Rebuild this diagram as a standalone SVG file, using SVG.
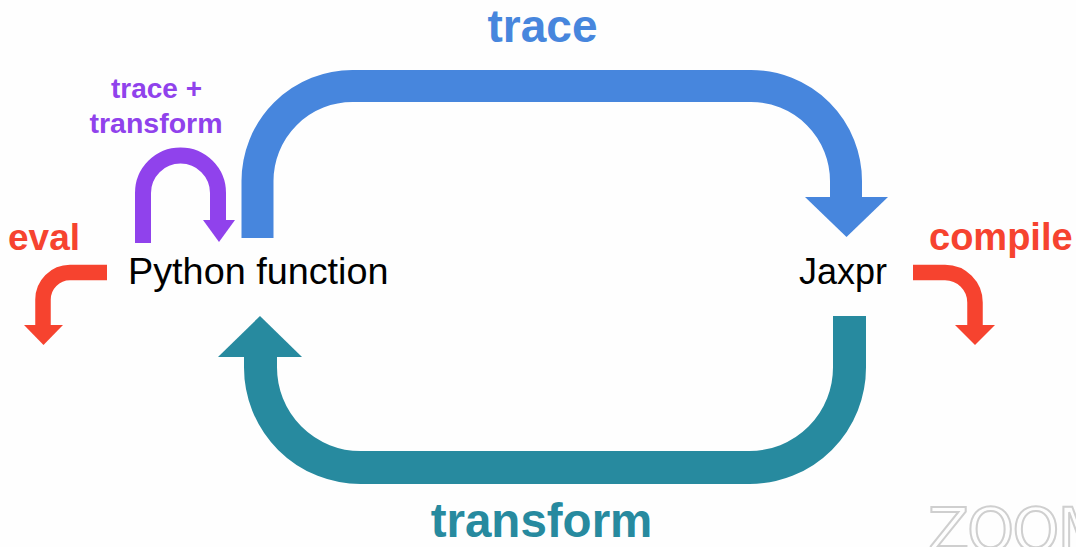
<svg xmlns="http://www.w3.org/2000/svg" width="1076" height="547" viewBox="0 0 1076 547">
<style>
.lbl{font-family:"Liberation Sans",Arial,sans-serif;font-weight:bold}
.node{font-family:"Liberation Sans",Arial,sans-serif;fill:#000}
.shaft{fill:none;stroke-linecap:butt;stroke-linejoin:round}
</style>
<rect width="1076" height="547" fill="#fefefe"/>
<g id="connectors">
  <g id="trace-arrow">
    <path class="shaft" d="M257.5,238 V181 A95,95 0 0 1 352.5,86 H751 A95,95 0 0 1 846,181 V199" stroke="#4786dd" stroke-width="32"/>
    <polygon points="805,197 888,197 846.5,237" fill="#4786dd"/>
  </g>
  <g id="transform-arrow">
    <path class="shaft" d="M849.5,316 V367.5 A100,100 0 0 1 749.5,467.5 H360.5 A100,100 0 0 1 260.5,367.5 V355" stroke="#278a9f" stroke-width="33"/>
    <polygon points="218,357 302,357 260,316" fill="#278a9f"/>
  </g>
  <g id="self-arrow">
    <path class="shaft" d="M143,243 V193 A37.5,37.5 0 0 1 218,193 V222" stroke="#9042ec" stroke-width="16"/>
    <polygon points="203,220 235,220 219,242" fill="#9042ec"/>
  </g>
  <g id="eval-arrow">
    <path class="shaft" d="M107,272.5 H70 A27,27 0 0 0 43,299.5 V327" stroke="#f6432f" stroke-width="15.5"/>
    <polygon points="24,325 63,325 43.5,345" fill="#f6432f"/>
  </g>
  <g id="compile-arrow">
    <path class="shaft" d="M913,272.5 H945 A30,30 0 0 1 975,302.5 V327" stroke="#f6432f" stroke-width="15.5"/>
    <polygon points="955,325 995,325 975,345" fill="#f6432f"/>
  </g>
</g>
<g id="labels">
  <text class="lbl" x="542.5" y="42" font-size="46" fill="#4786dd" text-anchor="middle">trace</text>
  <text class="lbl" x="541.5" y="537" font-size="47.5" fill="#278a9f" text-anchor="middle">transform</text>
  <text class="lbl" x="156.5" y="98" font-size="28" fill="#9042ec" text-anchor="middle">trace +</text>
  <text class="lbl" x="156" y="133" font-size="28.5" fill="#9042ec" text-anchor="middle">transform</text>
  <text class="lbl" x="8" y="250" font-size="37" fill="#f6432f">eval</text>
  <text class="lbl" x="929" y="250" font-size="38" fill="#f6432f">compile</text>
</g>
<g id="python-function">
  <text class="node" x="128" y="284" font-size="37.8">Python function</text>
</g>
<g id="jaxpr">
  <text class="node" x="799" y="284" font-size="36">Jaxpr</text>
</g>
<g id="watermark">
  <text x="928" y="551" font-family="DejaVu Sans,sans-serif" font-size="60" fill="none" stroke="#cfcfcf" stroke-width="2" letter-spacing="-2">ZOOM</text>
</g>
</svg>
